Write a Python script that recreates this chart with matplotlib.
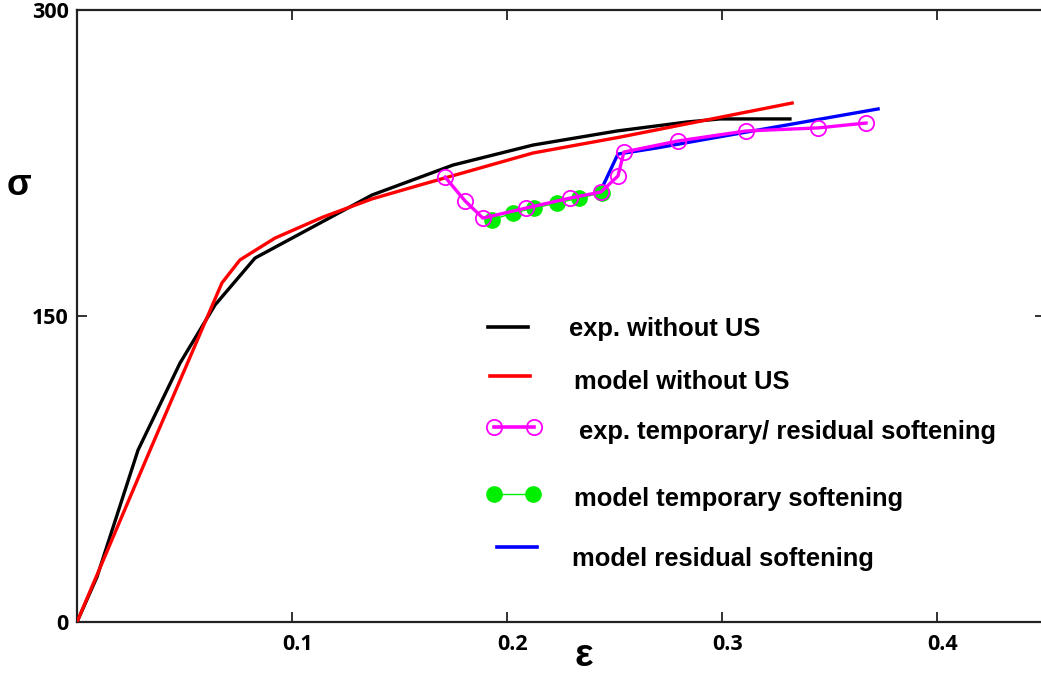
import matplotlib
matplotlib.use("Agg")
import matplotlib.pyplot as plt
from matplotlib.lines import Line2D
import matplotlib.transforms as mtransforms

# ---- data ----
exp_wo_x = [0.0, 0.0093, 0.0284, 0.0479, 0.0642, 0.0828, 0.1372, 0.1749, 0.2121, 0.2512, 0.2837, 0.2991, 0.3316]
exp_wo_y = [0.0, 22.1, 84.3, 126.9, 155.4, 178.4, 209.3, 224.0, 233.8, 240.7, 245.1, 246.6, 246.6]

mod_wo_x = [0.0, 0.034, 0.0674, 0.0758, 0.0921, 0.1144, 0.1372, 0.1595, 0.2121, 0.2526, 0.3326]
mod_wo_y = [0.0, 84.3, 166.2, 177.5, 188.2, 198.5, 207.4, 214.2, 229.9, 237.7, 254.4]

exp_soft_x = [0.1712, 0.1805, 0.1888, 0.2088, 0.2293, 0.2437, 0.2516, 0.2544, 0.2795, 0.3112, 0.3447, 0.3670]
exp_soft_y = [218.1, 206.4, 198.0, 202.9, 207.8, 210.8, 218.6, 230.4, 235.8, 240.7, 242.2, 244.6]

mod_temp_x = [0.1930, 0.2028, 0.2126, 0.2233, 0.2335, 0.2442]
mod_temp_y = [197.1, 200.5, 202.9, 205.4, 207.8, 210.3]

mod_res_x = [0.2433, 0.2470, 0.2516, 0.2698, 0.3116, 0.3726]
mod_res_y = [210.8, 219.1, 229.4, 232.4, 240.2, 251.5]

x_ticks = [0.1, 0.2, 0.3, 0.4]
x_ticklabels = ["0.1", "0.2", "0.3", "0.4"]
y_ticks = [0, 150, 300]
y_ticklabels = ["0", "150", "300"]

legend_labels = ["exp. without US", "model without US",
                 "exp. temporary/ residual softening",
                 "model temporary softening", "model residual softening"]

# ---- figure ----
W, H = 1041, 675
fig = plt.figure(figsize=(W / 100, H / 100), dpi=100)
ax = fig.add_axes([77 / W, 53 / H, (0.45 * 2150) / W, 612 / H])
ax.set_xlim(0, 0.45)
ax.set_ylim(0, 300)

GREEN = "#00ee00"
ax.plot(exp_wo_x, exp_wo_y, color="black", lw=2.4, zorder=3)
ax.plot(mod_wo_x, mod_wo_y, color="red", lw=2.4, zorder=3)
ax.plot(mod_res_x, mod_res_y, color="blue", lw=2.4, zorder=3)
ax.plot(mod_temp_x, mod_temp_y, color=GREEN, lw=1, marker="o", ms=11,
        markerfacecolor=GREEN, markeredgecolor=GREEN, zorder=4)
ax.plot(exp_soft_x, exp_soft_y, color="magenta", lw=2.4, marker="o", ms=11,
        markerfacecolor="none", markeredgecolor="magenta", mew=1.3, zorder=5)

for s in ax.spines.values():
    s.set_linewidth(1.6)
    s.set_color("#222222")

ax.set_xticks(x_ticks)
ax.set_xticklabels(x_ticklabels)
ax.set_yticks(y_ticks)
ax.set_yticklabels(y_ticklabels)
ax.tick_params(direction="in", length=7, width=1.3, top=True, right=True,
               labelsize=15.5, color="#222222")
ax.tick_params(axis="x", pad=9)
ax.tick_params(axis="y", pad=6)
for lab in ax.get_xticklabels() + ax.get_yticklabels():
    lab.set_fontfamily("Open Sans")
    lab.set_fontweight("bold")
off = mtransforms.ScaledTranslation(6 / 100, 0, fig.dpi_scale_trans)
for lab in ax.get_xticklabels():
    lab.set_transform(lab.get_transform() + off)

# axis labels
fig.text(19.5 / W, 1 - 185.5 / H, "σ", fontsize=26, fontweight="bold",
         family="Liberation Sans", ha="center", va="center")
fig.text(584 / W, 1 - 656 / H, "ε", fontsize=28, fontweight="bold",
         family="Liberation Sans", ha="center", va="center")

# ---- manual legend ----
def fx(px):
    return px / W

def fy(py):
    return 1 - py / H

leg_lines = [
    dict(x=(488, 528), y=327, color="black", lw=2.6),
    dict(x=(490, 530), y=376, color="red", lw=2.6),
    dict(x=(494, 534), y=427, color="magenta", lw=2.6, marker="o", ms=11,
         mfc="none", mec="magenta", mew=1.3),
    dict(x=(494, 533), y=494, color=GREEN, lw=1, marker="o", ms=11,
         mfc=GREEN, mec=GREEN),
    dict(x=(497, 537), y=547, color="blue", lw=2.6),
]
leg_text_pos = [(569, 336), (574, 389), (579, 439), (574, 506), (572, 566)]

for spec, lab, (tx, ty) in zip(leg_lines, legend_labels, leg_text_pos):
    kw = dict(color=spec["color"], lw=spec["lw"], transform=fig.transFigure)
    if "marker" in spec:
        kw.update(marker=spec["marker"], ms=spec["ms"], markerfacecolor=spec["mfc"],
                  markeredgecolor=spec["mec"], mew=spec.get("mew", 1.0))
    fig.add_artist(Line2D([fx(spec["x"][0]), fx(spec["x"][1])],
                          [fy(spec["y"]), fy(spec["y"])], **kw))
    fig.text(fx(tx), fy(ty), lab, fontsize=18.4, fontweight="bold",
             family="Liberation Sans", ha="left", va="baseline")

fig.savefig("out.png", dpi=100)
